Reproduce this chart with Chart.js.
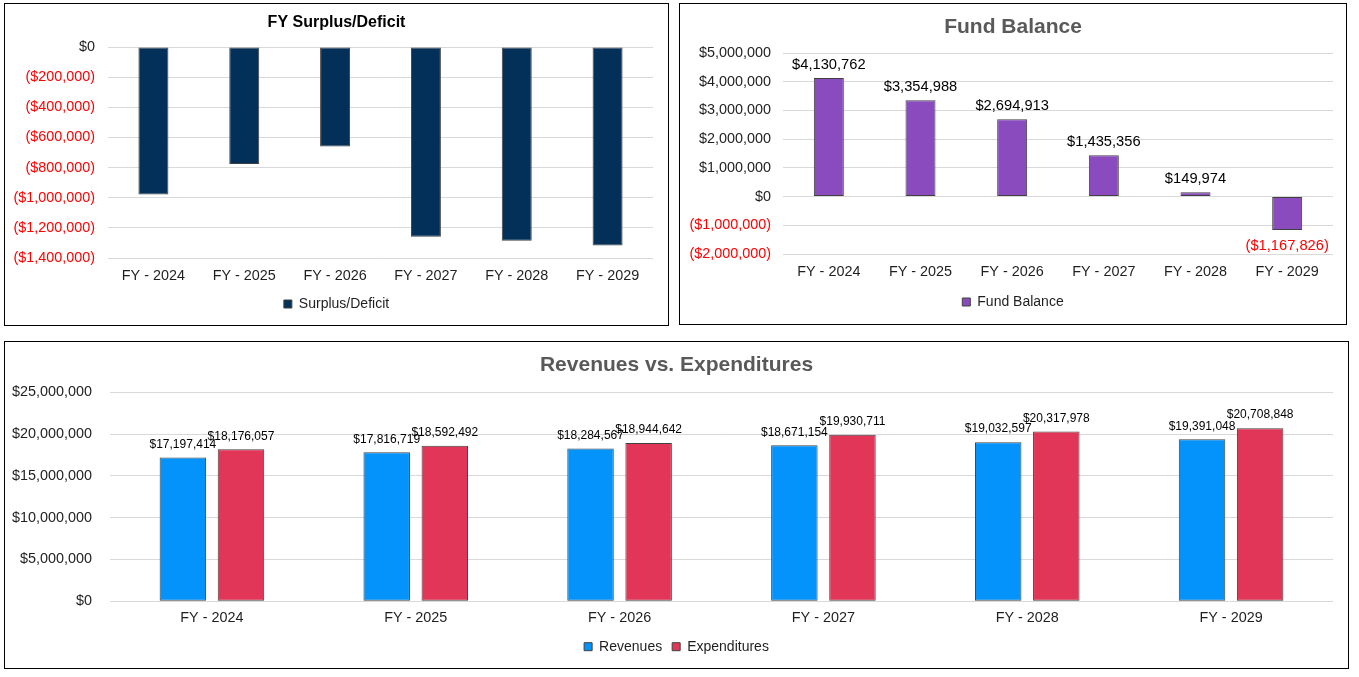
<!DOCTYPE html>
<html>
<head>
<meta charset="utf-8">
<title>Budget Charts</title>
<script src="https://cdn.jsdelivr.net/npm/chart.js@4.4.0/dist/chart.umd.min.js"></script>
<style>
body{margin:0;background:#fff;width:1359px;height:677px;position:relative;overflow:hidden}
.panel{position:absolute;border:1px solid #000;box-sizing:border-box;background:#fff}
.panel canvas{display:block}
</style>
</head>
<body>
<div class="panel" style="left:4px;top:3px;width:665px;height:323px"><canvas id="surplusChart" width="663" height="321"></canvas></div>
<div class="panel" style="left:679px;top:3px;width:668px;height:322px"><canvas id="fundChart" width="666" height="320"></canvas></div>
<div class="panel" style="left:4px;top:341px;width:1345px;height:328px"><canvas id="revExpChart" width="1343" height="326"></canvas></div>
<script>
var years = ["FY - 2024", "FY - 2025", "FY - 2026", "FY - 2027", "FY - 2028", "FY - 2029"];
var surplus = [-978643, -775773, -660075, -1259557, -1285381, -1317800];
var fundBalance = [4130762, 3354988, 2694913, 1435356, 149974, -1167826];
var revenues = [17197414, 17816719, 18284567, 18671154, 19032597, 19391048];
var expenditures = [18176057, 18592492, 18944642, 19930711, 20317978, 20708848];

var surplusTicks = {min: -1400000, max: 0, step: 200000};
var fundTicks = {min: -2000000, max: 5000000, step: 1000000};
var revTicks = {min: 0, max: 25000000, step: 5000000};

Chart.defaults.font.family = '"Liberation Sans", Arial, sans-serif';
Chart.defaults.animation = false;

var textColor = '#1f1f1f';
var gridColor = '#D9D9D9';
var edgeColor = '#404040';

function money(v){
    var s = '$' + String(Math.abs(v)).replace(/\B(?=(\d{3})+(?!\d))/g, ',');
    return v < 0 ? '(' + s + ')' : s;
}

function tickColor(c){
    return c.tick && c.tick.value < 0 ? '#FF0000' : textColor;
}

// draws the value over (or under) each bar
function barLabels(size, above, below){
    return {
        id: 'barLabels',
        afterDatasetsDraw: function(chart){
            var ctx = chart.ctx;
            ctx.save();
            ctx.font = size + 'px "Liberation Sans", Arial, sans-serif';
            ctx.textAlign = 'center';
            ctx.textBaseline = 'middle';
            chart.data.datasets.forEach(function(ds, i){
                chart.getDatasetMeta(i).data.forEach(function(bar, j){
                    var v = ds.data[j];
                    ctx.fillStyle = v < 0 ? '#FF0000' : '#000000';
                    ctx.fillText(money(v), bar.x, v < 0 ? bar.y + below : bar.y - above);
                });
            });
            ctx.restore();
        }
    };
}

function yAxis(t, width, pad){
    return {
        min: t.min,
        max: t.max,
        border: {display: false},
        grid: {color: gridColor, drawTicks: false},
        ticks: {
            stepSize: t.step,
            padding: pad,
            color: tickColor,
            font: {size: 14.4},
            callback: function(v){ return money(v); }
        },
        afterFit: function(scale){ scale.width = width; }
    };
}

// empty axis on the right, only keeps a gap so the titles stay centred
function spacer(width){
    return {
        type: 'linear',
        position: 'right',
        border: {display: false},
        grid: {display: false, drawTicks: false},
        ticks: {display: false},
        afterFit: function(scale){ scale.width = width; }
    };
}

function xAxis(height, pad){
    return {
        border: {display: false},
        grid: {display: false, drawTicks: false},
        ticks: {padding: pad, color: textColor, font: {size: 14.4}},
        afterFit: function(scale){ scale.height = height; }
    };
}

function legendOpts(){
    return {
        position: 'bottom',
        labels: {boxWidth: 8, boxHeight: 8, padding: 10, color: textColor, font: {size: 14}}
    };
}

new Chart(document.getElementById("surplusChart"), {
    type: "bar",
    data: {
        labels: years,
        datasets: [{
            label: "Surplus/Deficit",
            data: surplus,
            backgroundColor: "#033058",
            borderColor: edgeColor,
            borderWidth: 1,
            borderSkipped: false,
            barPercentage: 0.33,
            categoryPercentage: 1
        }]
    },
    options: {
        responsive: false,
        layout: {padding: {left: 0, right: 0, top: 0, bottom: 4}},
        plugins: {
            title: {display: true, text: "FY Surplus/Deficit", color: "#000000",
                font: {size: 16, weight: "bold"}, padding: {top: 8.9, bottom: 14.9}},
            legend: legendOpts(),
            tooltip: {enabled: false}
        },
        scales: {
            x: xAxis(29, 9),
            y: yAxis(surplusTicks, 103, 13),
            gap: spacer(15)
        }
    }
});

new Chart(document.getElementById("fundChart"), {
    type: "bar",
    data: {
        labels: years,
        datasets: [{
            label: "Fund Balance",
            data: fundBalance,
            backgroundColor: "#8A4BBF",
            borderColor: edgeColor,
            borderWidth: 1,
            borderSkipped: false,
            barPercentage: 0.327,
            categoryPercentage: 1
        }]
    },
    options: {
        responsive: false,
        layout: {padding: {left: 0, right: 0, top: 0, bottom: 5}},
        plugins: {
            title: {display: true, text: "Fund Balance", color: "#595959",
                font: {size: 21, weight: "bold"}, padding: {top: 11.1, bottom: 12.7}},
            legend: legendOpts(),
            tooltip: {enabled: false}
        },
        scales: {
            x: xAxis(31, 9.4),
            y: yAxis(fundTicks, 103, 12),
            gap: spacer(13)
        }
    },
    plugins: [barLabels(14.7, 13.3, 15.8)]
});

new Chart(document.getElementById("revExpChart"), {
    type: "bar",
    data: {
        labels: years,
        datasets: [{
            label: "Revenues",
            data: revenues,
            backgroundColor: "#0393FA",
            borderColor: edgeColor,
            borderWidth: 1,
            borderSkipped: false,
            barPercentage: 0.8,
            categoryPercentage: 0.57
        }, {
            label: "Expenditures",
            data: expenditures,
            backgroundColor: "#E13657",
            borderColor: edgeColor,
            borderWidth: 1,
            borderSkipped: false,
            barPercentage: 0.8,
            categoryPercentage: 0.57
        }]
    },
    options: {
        responsive: false,
        layout: {padding: {left: 0, right: 0, top: 0, bottom: 4.3}},
        plugins: {
            title: {display: true, text: "Revenues vs. Expenditures", color: "#595959",
                font: {size: 21, weight: "bold"}, padding: {top: 10.7, bottom: 14.4}},
            legend: legendOpts(),
            tooltip: {enabled: false}
        },
        scales: {
            x: xAxis(28.4, 7.6),
            y: yAxis(revTicks, 105, 18),
            gap: spacer(15)
        }
    },
    plugins: [barLabels(12, 13, 13)]
});
</script>
</body>
</html>
